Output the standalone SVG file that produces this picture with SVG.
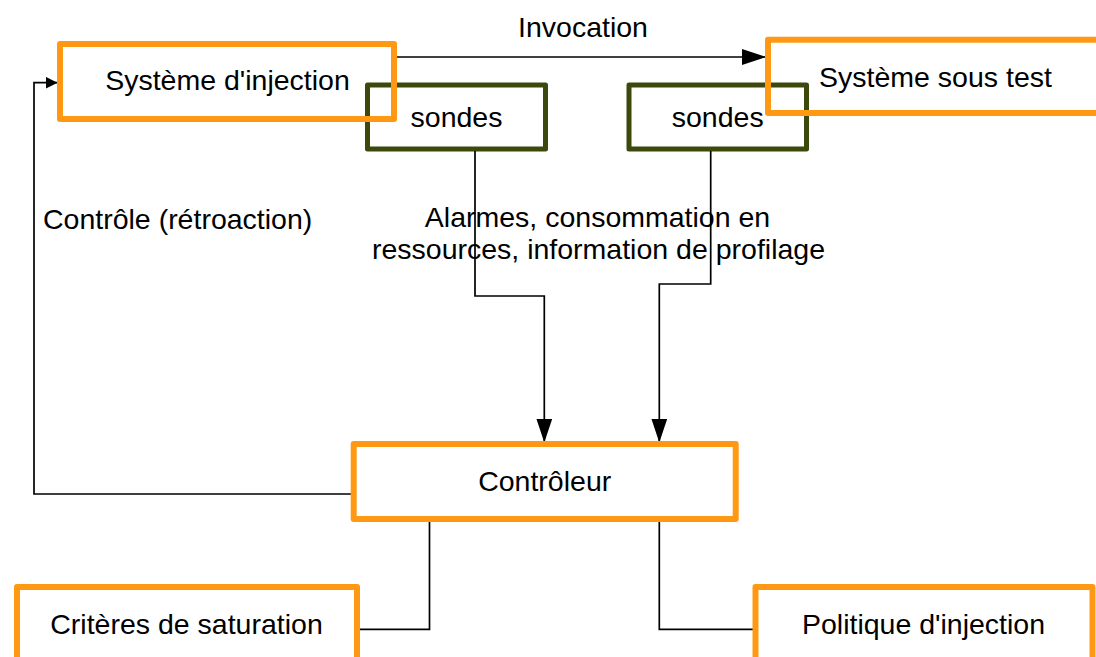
<svg xmlns="http://www.w3.org/2000/svg" width="1096" height="657" viewBox="0 0 1096 657">
<style>
  text { font-family: "Liberation Sans", Arial, sans-serif; font-size: 28.5px; fill: #000; }
  .mid { text-anchor: middle; }
  .orange { fill: none; stroke: #ff9914; stroke-width: 6; stroke-linejoin: round; }
  .olive { fill: #fff; stroke: #3b4a0c; stroke-width: 5; stroke-linejoin: round; }
  .conn { fill: none; stroke: #000; stroke-width: 1.7; }
</style>
<defs>
  <marker id="arrowBig" markerUnits="userSpaceOnUse" markerWidth="24" markerHeight="16" refX="24" refY="8" orient="auto">
    <path d="M0,0 L24,8 L0,16 z" fill="#000"/>
  </marker>
  <marker id="arrowSmall" markerUnits="userSpaceOnUse" markerWidth="12" markerHeight="12" refX="12" refY="6" orient="auto">
    <path d="M0,0 L12,6 L0,12 z" fill="#000"/>
  </marker>
</defs>
<rect width="1096" height="657" fill="#fff"/>

<g id="labels">
  <text class="mid" x="583" y="36.5">Invocation</text>
  <text x="43" y="229">Contrôle (rétroaction)</text>
  <text class="mid" x="597.5" y="226.5">Alarmes, consommation en</text>
  <text class="mid" x="598.5" y="258.5">ressources, information de profilage</text>
</g>

<g id="sondes-1">
  <rect class="olive" x="367.5" y="85" width="178" height="64"/>
  <text class="mid" x="456.5" y="127">sondes</text>
</g>
<g id="sondes-2">
  <rect class="olive" x="629" y="85" width="177.5" height="64"/>
  <text class="mid" x="717.7" y="127">sondes</text>
</g>

<g id="connectors">
  <path class="conn" d="M397,57 H766" marker-end="url(#arrowBig)"/>
  <path class="conn" d="M475,151 V296 H544.3 V442.5" marker-end="url(#arrowBig)"/>
  <path class="conn" d="M710.7,151 V284 H659.3 V442.5" marker-end="url(#arrowBig)"/>
  <path class="conn" d="M351,494 H34 V82.7 H57.5" marker-end="url(#arrowSmall)"/>
  <path class="conn" d="M429.5,521 V629.3 H359"/>
  <path class="conn" d="M659.3,521 V629.3 H753"/>
</g>

<g id="systeme-injection">
  <rect class="orange" x="60" y="44" width="334" height="75"/>
  <text class="mid" x="227.5" y="90">Système d'injection</text>
</g>
<g id="systeme-sous-test">
  <rect class="orange" x="768" y="39.7" width="335" height="73.3"/>
  <text class="mid" x="935.5" y="86.5">Système sous test</text>
</g>
<g id="controleur">
  <rect class="orange" x="353.7" y="444" width="382" height="75"/>
  <text class="mid" x="544.7" y="491">Contrôleur</text>
</g>
<g id="criteres-saturation">
  <rect class="orange" x="17" y="587" width="340" height="80"/>
  <text class="mid" x="186.5" y="634">Critères de saturation</text>
</g>
<g id="politique-injection">
  <rect class="orange" x="755.5" y="587" width="337" height="80"/>
  <text class="mid" x="923.5" y="634">Politique d'injection</text>
</g>
</svg>
